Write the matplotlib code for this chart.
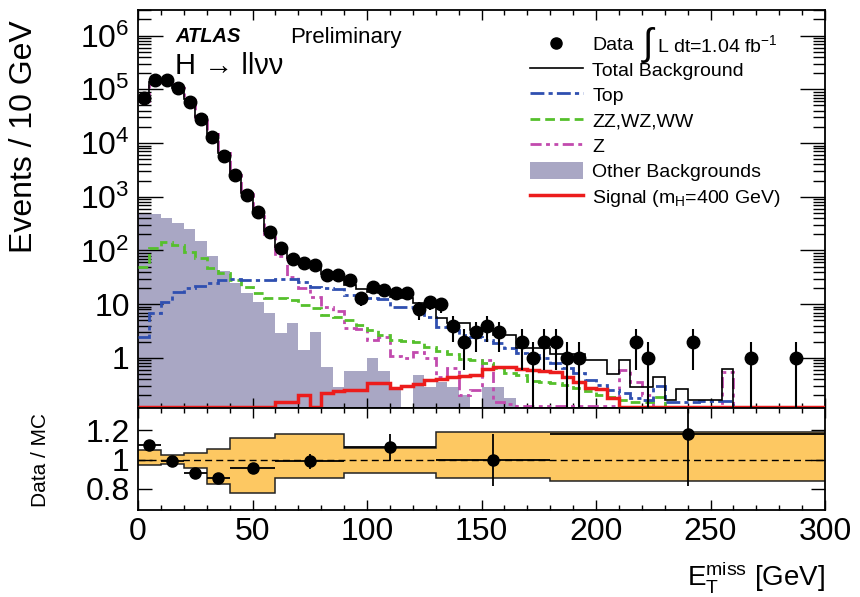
import numpy as np
import matplotlib
matplotlib.use("Agg")
import matplotlib.pyplot as plt
from matplotlib.ticker import FixedLocator, MultipleLocator, LogLocator, NullFormatter
from matplotlib.lines import Line2D
from matplotlib.patches import Patch

plt.rcParams['font.family'] = ['Liberation Sans', 'DejaVu Sans']
plt.rcParams['mathtext.fontset'] = 'custom'
plt.rcParams['mathtext.rm'] = 'Liberation Sans'
plt.rcParams['mathtext.it'] = 'Liberation Sans:italic'
plt.rcParams['mathtext.bf'] = 'Liberation Sans:bold'

# 5 GeV bins, 0 - 300 GeV
bin_edges = np.arange(0, 305, 5)

data_counts = [70000, 150000, 150000, 105000, 59000, 28000, 13000, 5700, 2500, 1100,
               510, 225, 112, 70, 58, 54, 35, 35, 28, 13,
               21, 18, 16, 16, 8, 11, 10, 4, 2, 3,
               4, 3, 0, 2, 1, 2, 2, 1, 1, 0,
               0, 0, 0, 2, 1, 0, 0, 0, 2, 0,
               0, 0, 0, 1, 0, 0, 0, 1, 0, 0]

total_bkg = [64000, 136000, 150000, 108000, 65000, 31000, 15000, 6500, 2650, 1180,
             530, 235, 115, 72, 60, 55, 36, 31, 23, 19,
             17, 16, 13.5, 13, 10.5, 9, 5.6, 4.5, 4.5, 3.3,
             3.3, 2.7, 2.7, 1.5, 1.5, 1.5, 1.2, 1.2, 1.2, 0.9,
             0.9, 0.5, 0.9, 0.29, 0.29, 0.45, 0.165, 0.26, 0.165, 0.165,
             0.165, 0.62, 0, 0, 0, 0, 0, 0, 0, 0]

top_bkg = [2.5, 6.9, 11, 17, 20, 22, 24.6, 28, 29, 28,
           28, 28, 29, 29, 26, 21, 20, 19, 15, 15,
           13, 12.5, 9, 9, 7.3, 5.9, 3.8, 3.3, 2.7, 2.5,
           2.2, 1.9, 1.5, 1.22, 1.14, 1.0, 0.8, 0.64, 0.52, 0.39,
           0.31, 0.25, 0.22, 0.18, 0.165, 0.3, 0.15, 0.15, 0.15, 0.16,
           0.16, 0.16, 0, 0, 0, 0, 0, 0, 0, 0]

diboson_bkg = [49, 110, 145, 127, 95, 71, 47, 38, 28, 21,
               16, 13, 13, 12, 9.7, 8.4, 6.3, 5.9, 5.1, 4.1,
               3.3, 2.7, 2.2, 2.1, 2.0, 1.6, 1.35, 1.2, 0.95, 0.9,
               0.8, 0.65, 0.52, 0.48, 0.37, 0.36, 0.34, 0.31, 0.28, 0.24,
               0.2, 0.19, 0.165, 0.15, 0.15, 0.19, 0, 0, 0, 0,
               0, 0, 0, 0, 0, 0, 0, 0, 0, 0]

z_bkg = [61000, 135000, 149000, 107000, 64000, 30000, 14500, 6400, 2580, 1130,
         500, 200, 78, 32, 20, 13.5, 9, 7.5, 3.6, 3.5,
         2.2, 2.5, 1.1, 1.0, 1.3, 1.0, 0.45, 0.65, 0.2, 0.25,
         0.9, 0.15, 0.14, 0.13, 0.13, 0.13, 0.13, 0.13, 0.13, 0.13,
         0.13, 0.13, 0.6, 0.35, 0.2, 0, 0, 0, 0, 0,
         0, 0.55, 0, 0, 0, 0, 0, 0, 0, 0]

other_bkg = [500, 470, 400, 330, 250, 150, 80, 42, 25, 16,
             11, 7, 2.9, 4.5, 1.4, 3.1, 0.69, 0.29, 0.56, 0.56,
             1.0, 0.56, 0.29, 0, 0.48, 0.29, 0.36, 0.29, 0.2, 0,
             0.29, 0.29, 0.18, 0, 0, 0, 0, 0, 0, 0,
             0, 0, 0, 0, 0, 0, 0, 0, 0, 0,
             0, 0, 0, 0, 0, 0, 0, 0, 0, 0]

signal_400 = [0.12, 0.12, 0.12, 0.12, 0.12, 0.12, 0.12, 0.12, 0.12, 0.12,
              0.12, 0.12, 0.15, 0.15, 0.2, 0.12, 0.22, 0.24, 0.25, 0.25,
              0.34, 0.34, 0.27, 0.3, 0.33, 0.39, 0.4, 0.45, 0.47, 0.48,
              0.62, 0.68, 0.68, 0.62, 0.6, 0.58, 0.54, 0.45, 0.36, 0.27,
              0.26, 0.18, 0.12, 0.12, 0.12, 0.12, 0.12, 0.12, 0.12, 0.12,
              0.12, 0.12, 0.12, 0.12, 0.12, 0.12, 0.12, 0.12, 0.12, 0.12]

# coarse bins of the Data / MC panel and the MC uncertainty band
ratio_edges = [0, 10, 20, 30, 40, 60, 90, 130, 180, 300]
mc_band_lo = [0.96, 0.968, 0.945, 0.834, 0.772, 0.874, 0.91, 0.874, 0.853]
mc_band_hi = [1.064, 1.03, 1.046, 1.069, 1.145, 1.172, 1.08, 1.19, 1.19]

Y_MIN, Y_MAX = 0.117, 3.0e6
FLOOR = 1e-3

C_TOP = '#2f4fb0'
C_VV = '#55c02c'
C_Z = '#c24aae'
C_OTHER = '#a9a7c4'
C_SIG = '#ec1c1c'
C_BAND = '#fdc862'

DASH_TOP = (0, (5, 1.5, 1.5, 1.5))
DASH_VV = (0, (3.5, 1.8))
DASH_Z = (0, (4, 1.6, 1.4, 1.6, 1.4, 1.6))


def floor(vals):
    return np.clip(np.asarray(vals, dtype=float), FLOOR, None)


def style_axes(ax):
    for sp in ax.spines.values():
        sp.set_linewidth(1.3)
    ax.tick_params(which='both', direction='in', top=True, right=True, labelsize=23)
    ax.xaxis.set_major_locator(MultipleLocator(50))
    ax.xaxis.set_minor_locator(MultipleLocator(10))
    ax.tick_params(axis='x', which='major', length=7, width=1)
    ax.tick_params(axis='x', which='minor', length=3.5, width=1)


def main_panel(fig):
    ax = fig.add_axes([0.1605, 0.3166, 0.7988, 0.6667])
    ax.set_yscale('log')
    ax.set_xlim(0, 300)
    ax.set_ylim(Y_MIN, Y_MAX)

    ax.stairs(floor(other_bkg), bin_edges, baseline=FLOOR, fill=True,
              color=C_OTHER, lw=0, zorder=1)
    ax.stairs(floor(z_bkg), bin_edges, baseline=None, color=C_Z, lw=2, ls=DASH_Z, zorder=2)
    ax.stairs(floor(diboson_bkg), bin_edges, baseline=None, color=C_VV, lw=2, ls=DASH_VV, zorder=3)
    ax.stairs(floor(top_bkg), bin_edges, baseline=None, color=C_TOP, lw=2, ls=DASH_TOP, zorder=4)
    ax.stairs(floor(signal_400), bin_edges, baseline=None, color=C_SIG, lw=2.5, zorder=5)
    ax.stairs(floor(total_bkg), bin_edges, baseline=None, color='black', lw=1.2, zorder=6)

    counts = np.asarray(data_counts, dtype=float)
    centers = 0.5 * (bin_edges[:-1] + bin_edges[1:])
    keep = counts > 0
    err = np.sqrt(counts[keep])
    lo = np.minimum(err, counts[keep] - FLOOR)
    ax.errorbar(centers[keep], counts[keep], yerr=[lo, err], fmt='o', color='black',
                ms=9, elinewidth=1.5, capsize=0, zorder=10)

    style_axes(ax)
    ax.tick_params(axis='x', labelbottom=False)
    ax.yaxis.set_major_locator(FixedLocator([1, 10, 1e2, 1e3, 1e4, 1e5, 1e6]))
    ax.set_yticklabels(['1', '10', '$10^{2}$', '$10^{3}$', '$10^{4}$', '$10^{5}$', '$10^{6}$'])
    ax.yaxis.set_minor_locator(LogLocator(base=10, subs=np.arange(2, 10), numticks=20))
    ax.yaxis.set_minor_formatter(NullFormatter())
    ax.tick_params(axis='y', which='major', length=18, width=1, pad=6)
    ax.tick_params(axis='y', which='minor', length=9, width=1)

    handles = [
        Line2D([], [], marker='o', ls='none', color='black', ms=8),
        Line2D([], [], color='black', lw=1.2),
        Line2D([], [], color=C_TOP, lw=2, ls=DASH_TOP),
        Line2D([], [], color=C_VV, lw=2, ls=DASH_VV),
        Line2D([], [], color=C_Z, lw=2, ls=DASH_Z),
        Patch(facecolor=C_OTHER, edgecolor='none'),
        Line2D([], [], color=C_SIG, lw=2.5),
    ]
    labels = ['Data', 'Total Background', 'Top', 'ZZ,WZ,WW', 'Z',
              'Other Backgrounds', r'Signal (m$_{\mathrm{H}}$=400 GeV)']
    fig.legend(handles, labels, loc='upper left', bbox_to_anchor=(530 / 860, 1 - 35 / 597),
               frameon=False, fontsize=14, handlelength=2.7, handletextpad=0.5,
               handleheight=1.0, labelspacing=0.31, borderpad=0, borderaxespad=0)

    # luminosity: a tall integral sign followed by the text
    fig.text(641 / 860, 1 - 45 / 597, r'$\int$', fontsize=27, va='center', ha='left')
    fig.text(657 / 860, 1 - 45 / 597, r'L dt=1.04 fb$^{-1}$', fontsize=14,
             va='center', ha='left')

    fig.text(175 / 860, 1 - 37 / 597, 'ATLAS', fontsize=14.5, fontweight='bold',
             fontstyle='italic', va='center', ha='left')
    fig.text(290 / 860, 1 - 37 / 597, 'Preliminary', fontsize=16, va='center', ha='left')
    fig.text(175 / 860, 1 - 66 / 597, 'H → llνν', fontsize=21, va='center', ha='left')

    fig.text(24 / 860, 1 - 137 / 597, 'Events / 10 GeV', fontsize=23, rotation=90,
             va='center', ha='center')
    return ax


def ratio_panel(fig):
    ax = fig.add_axes([0.1605, 0.1457, 0.7988, 0.1709])
    ax.set_xlim(0, 300)
    ax.set_ylim(0.653, 1.354)

    edges = np.asarray(ratio_edges, dtype=float)
    ax.stairs(mc_band_hi, edges, baseline=mc_band_lo, fill=True, color=C_BAND, lw=0, zorder=1)
    ax.stairs(mc_band_hi, edges, baseline=None, color='#222222', lw=1.1, zorder=2)
    ax.stairs(mc_band_lo, edges, baseline=None, color='#222222', lw=1.1, zorder=2)
    ax.axhline(1.0, color='black', lw=1, ls=(0, (5, 3)), zorder=3)

    counts = np.asarray(data_counts, dtype=float)
    total = np.asarray(total_bkg, dtype=float)
    idx = np.searchsorted(bin_edges, edges)
    n_data = np.add.reduceat(counts, idx[:-1])
    n_mc = np.add.reduceat(total, idx[:-1])
    ratio = n_data / n_mc
    rerr = np.sqrt(n_data) / n_mc
    centers = 0.5 * (edges[:-1] + edges[1:])
    half = 0.5 * np.diff(edges)
    ax.errorbar(centers, ratio, xerr=half, yerr=rerr, fmt='o', color='black', ms=8,
                elinewidth=1.3, capsize=0, zorder=10)

    style_axes(ax)
    ax.yaxis.set_major_locator(FixedLocator([0.8, 1.0, 1.2]))
    ax.set_yticklabels(['0.8', '1', '1.2'])
    ax.tick_params(axis='y', which='major', length=10, width=1, pad=6)
    ax.tick_params(axis='x', which='major', pad=5)
    # keep the last label inside the frame
    fig.canvas.draw()
    ax.get_xticklabels()[-1].set_horizontalalignment('right')

    fig.text(40 / 860, 1 - 460 / 597, 'Data / MC', fontsize=15, rotation=90,
             va='center', ha='center')
    fig.text(825 / 860, 1 - 577 / 597, r'E$_{\mathrm{T}}^{\mathrm{miss}}$ [GeV]', fontsize=20,
             va='center', ha='right')
    return ax


def main():
    fig = plt.figure(figsize=(8.6, 5.97), dpi=100)
    main_panel(fig)
    ratio_panel(fig)
    fig.savefig('out.png', dpi=100)


if __name__ == '__main__':
    main()
